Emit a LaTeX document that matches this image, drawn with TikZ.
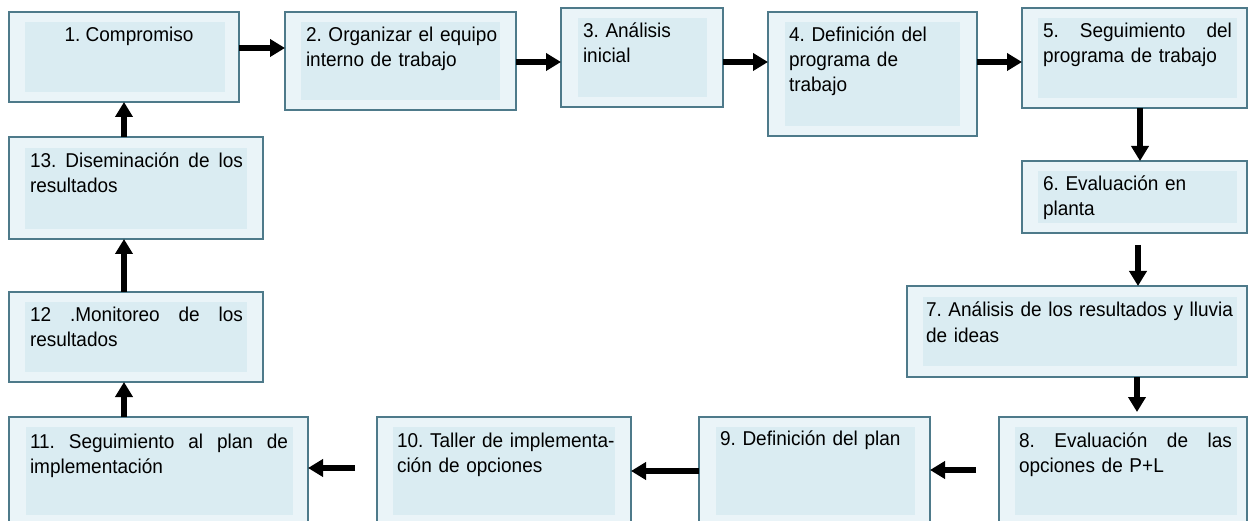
\documentclass[tikz,border=0pt]{standalone}
\usepackage{fontspec}
\setmainfont{Liberation Sans}[FakeStretch=0.95]
\usetikzlibrary{arrows.meta,fit}
\definecolor{bordc}{RGB}{78,122,138}
\definecolor{outfill}{RGB}{234,244,248}
\definecolor{infill}{RGB}{218,236,242}
\tikzset{
  outerst/.style={draw=bordc, line width=1.2pt, fill=outfill, inner sep=0pt, outer sep=0pt},
  innerst/.style={fill=infill, inner sep=0pt, outer sep=0pt},
  txt/.style={font=\fontsize{20}{25}\selectfont\frenchspacing, inner sep=0pt, outer sep=0pt, anchor=base west, align=left, text=black},
  arr/.style={line width=5.2pt, -{Triangle[width=17pt,length=15pt]}},
}
\newcommand\stepblock[9]{%
  \node[outerst, fit={(#2,#3) (#4,#5)}] (#1) {};
  \node[innerst, fit={(#6,#7) (#8,#9)}] (#1i) {};
}
\newcommand\jl[2]{\makebox[#1][l]{#2}}
\begin{document}
\begin{tikzpicture}[x=1pt,y=-1pt]
\useasboundingbox (0,0) rectangle (1248,521);
\clip (0,0) rectangle (1248,521);
% boxes
\stepblock{b1}{9}{12}{239}{102}{25}{22}{225}{92}
\stepblock{b2}{285}{12}{516}{110}{301}{22}{500}{100}
\stepblock{b3}{561}{8}{723}{107}{578}{18}{707}{97}
\stepblock{b4}{768}{12}{977}{136}{785}{22}{960}{126}
\stepblock{b5}{1022}{8}{1247}{108}{1038}{18}{1237}{98}
\stepblock{b6}{1022}{161}{1247}{233}{1038}{171}{1237}{223}
\stepblock{b7}{907}{286}{1247}{377}{923}{297}{1237}{366}
\stepblock{b8}{999}{417}{1247}{530}{1015}{427}{1237}{515}
\stepblock{b9}{699}{417}{930}{530}{716}{427}{915}{515}
\stepblock{b10}{377}{417}{631}{530}{393}{427}{615}{515}
\stepblock{b11}{9}{417}{308}{530}{26}{427}{293}{515}
\stepblock{b12}{9}{292}{263}{382}{25}{302}{247}{372}
\stepblock{b13}{9}{137}{263}{239}{25}{148}{247}{229}
% texts
\node[txt, anchor=base] (t1) at (129,42) {1. Compromiso};
\node[txt, text width=260pt] (t2) at (306,42) {2. Organizar el equipo\\interno de trabajo};
\node[txt, text width=260pt] (t3) at (583,38) {3. Análisis\\inicial};
\node[txt, text width=260pt] (t4) at (789,42) {4. Definición del\\programa de\\trabajo};
\node[txt, text width=260pt] (t5) at (1043,38) {\jl{189pt}{5.\hfill Seguimiento\hfill del}\\programa de trabajo};
\node[txt, text width=260pt] (t6) at (1043,191) {6. Evaluación en\\planta};
\node[txt, text width=320pt] (t7) at (926,317) {\jl{307pt}{7.\hfill Análisis\hfill de\hfill los\hfill resultados\hfill y\hfill lluvia}\\de ideas};
\node[txt, text width=260pt] (t8) at (1019,447) {\jl{213pt}{8.\hfill Evaluación\hfill de\hfill las}\\opciones de P+L};
\node[txt, text width=260pt] (t9) at (720,445) {9. Definición del plan};
\node[txt, text width=260pt] (t10) at (397,447) {10. Taller de implementa-\\ción de opciones};
\node[txt, text width=280pt] (t11) at (30,448) {\jl{258pt}{11.\hfill Seguimiento\hfill al\hfill plan\hfill de}\\implementación};
\node[txt, text width=260pt] (t12) at (30,322) {\jl{213pt}{12\hfill .Monitoreo\hfill de\hfill los}\\resultados};
\node[txt, text width=260pt] (t13) at (30,168) {\jl{213pt}{13.\hfill Diseminación\hfill de\hfill los}\\resultados};
% free ends
\coordinate (c6s) at (1138,245);
\coordinate (c8n) at (1137,412);
\coordinate (c8w) at (976,470);
\coordinate (c10w) at (355,468);
% arrows
\draw[arr] (b1.east |- 0,48) -- (b2.west |- 0,48);
\draw[arr] (b2.east |- 0,62) -- (b3.west |- 0,62);
\draw[arr] (b3.east |- 0,62) -- (b4.west |- 0,62);
\draw[arr] (b4.east |- 0,62) -- (b5.west |- 0,62);
\draw[arr] (b5.south -| 1140,0) -- (b6.north -| 1140,0);
\draw[arr] (c6s) -- (b7.north -| c6s);
\draw[arr] (b7.south -| c8n) -- (c8n);
\draw[arr] (c8w) -- (b9.east |- c8w);
\draw[arr] (b9.west |- 0,471) -- (b10.east |- 0,471);
\draw[arr] (c10w) -- (b11.east |- c10w);
\draw[arr] (b11.north -| 124,0) -- (b12.south -| 124,0);
\draw[arr] (b12.north -| 124,0) -- (b13.south -| 124,0);
\draw[arr] (b13.north -| 124,0) -- (b1.south -| 124,0);
\end{tikzpicture}
\end{document}
